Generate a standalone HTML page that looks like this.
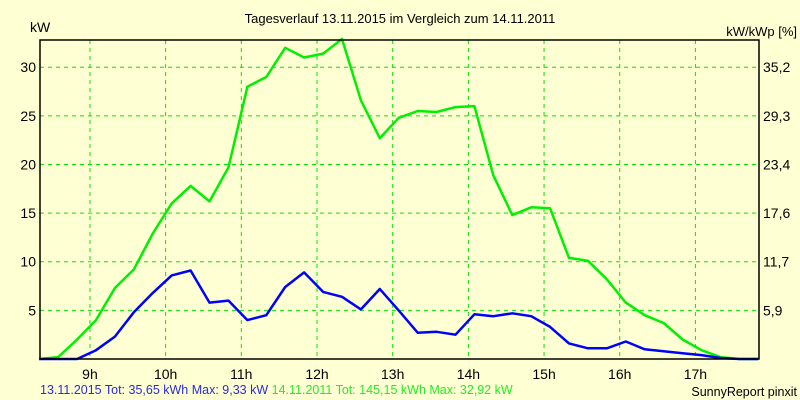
<!DOCTYPE html>
<html><head><meta charset="utf-8"><style>
body{margin:0;background:#ffffd4;}
svg{display:block;font-family:"Liberation Sans",sans-serif;}
</style></head><body>
<svg id="c" width="800" height="400">
<rect x="0" y="0" width="800" height="400" fill="#ffffd4"/>
<text x="400" y="23" text-anchor="middle" font-size="13" fill="#000">Tagesverlauf 13.11.2015 im Vergleich zum 14.11.2011</text>
<text x="30" y="32" font-size="14" fill="#000">kW</text>
<text x="797" y="36" text-anchor="end" font-size="13" fill="#000">kW/kWp [%]</text>
<g id="grid"></g>
<g id="series"></g>
<rect x="40" y="40" width="719" height="319" fill="none" stroke="#000" stroke-width="1.5"/>
<text x="40" y="394" font-size="12.5"><tspan fill="#2a2ae0">13.11.2015 Tot: 35,65 kWh Max: 9,33 kW</tspan><tspan fill="#22ee22"> 14.11.2011 Tot: 145,15 kWh Max: 32,92 kW</tspan></text>
<text x="797" y="396" text-anchor="end" font-size="12.5" fill="#000">SunnyReport pinxit</text>
</svg>
<script>
const times=[8.33,8.58,8.83,9.08,9.33,9.58,9.83,10.08,10.33,10.58,10.83,11.08,11.33,11.58,11.83,12.08,12.33,12.58,12.83,13.08,13.33,13.58,13.83,14.08,14.33,14.58,14.83,15.08,15.33,15.58,15.83,16.08,16.33,16.58,16.83,17.08,17.33,17.58,17.83];
const blueValues=[0,0,0,0.9,2.3,4.8,6.8,8.6,9.1,5.8,6.0,4.0,4.5,7.4,8.9,6.9,6.4,5.1,7.2,5.0,2.7,2.8,2.5,4.6,4.4,4.7,4.4,3.3,1.6,1.1,1.1,1.8,1.0,0.8,0.6,0.4,0.1,0,0];
const greenValues=[0,0.2,2.0,4.0,7.3,9.2,12.9,16.0,17.8,16.2,19.7,28.0,29.0,32.0,31.0,31.4,32.9,26.6,22.7,24.8,25.5,25.4,25.9,26.0,18.9,14.8,15.6,15.5,10.4,10.1,8.2,5.8,4.5,3.7,2.0,0.9,0.2,0,0];
const hourTicks=[9,10,11,12,13,14,15,16,17];
const leftTicks=[5,10,15,20,25,30];
const rightTickLabels=["5,9","11,7","17,6","23,4","29,3","35,2"];
const NS="http://www.w3.org/2000/svg";
const X0=40,X1=759,Y0=359,Y1=40,H0=8.34,H1=17.84,VMAX=32.8;
function xs(h){return X0+(h-H0)/(H1-H0)*(X1-X0);}
function ys(v){return Y0-v/VMAX*(Y0-Y1);}
function mk(t,a,p){const e=document.createElementNS(NS,t);for(const k in a)e.setAttribute(k,a[k]);p.appendChild(e);return e;}
const grid=document.getElementById('grid'),ser=document.getElementById('series');
hourTicks.forEach(h=>{
 const l=mk('line',{x1:xs(h),x2:xs(h),y1:Y1,y2:Y0,stroke:'#00e800','stroke-dasharray':'4,4'},grid);
 
 
 const t=mk('text',{x:xs(h),y:379,'text-anchor':'middle','font-size':14},grid);
 t.textContent=h+'h';
 
 
});
leftTicks.forEach((v,i)=>{
 const l=mk('line',{x1:X0,x2:X1,y1:ys(v),y2:ys(v),stroke:'#00e800','stroke-dasharray':'4,4'},grid);
 
 
 const t=mk('text',{x:36,y:ys(v)+5,'text-anchor':'end','font-size':14},grid);
 t.textContent=v;
 
 
 const r=mk('text',{x:763,y:ys(v)+5,'font-size':14},grid);
 r.textContent=rightTickLabels[i];
 
 
});
function line(vals,color,name){
 const pts=vals.map((v,i)=>xs(times[i]).toFixed(1)+','+ys(v).toFixed(1)).join(' ');
 const p=mk('polyline',{points:pts,fill:'none',stroke:color,'stroke-width':2.5,'stroke-linejoin':'round'},ser);
 
 
}
line(greenValues,'#00f000','series-2011-line');
line(blueValues,'#0000ff','series-2015-line');
</script>
</body></html>
